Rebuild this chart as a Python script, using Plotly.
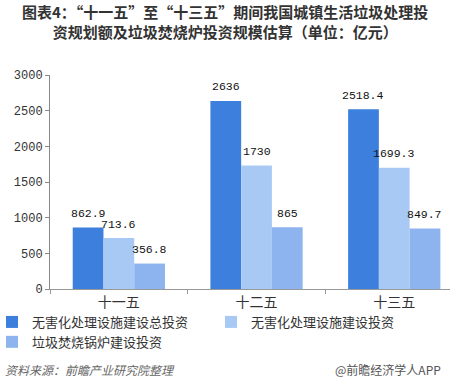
import plotly.graph_objects as go

categories = ["十一五", "十二五", "十三五"]
series_names = ["无害化处理设施建设总投资", "无害化处理设施建设投资", "垃圾焚烧锅炉建设投资"]
total_invest = [862.9, 2636, 2518.4]
facility_invest = [713.6, 1730, 1699.3]
boiler_invest = [356.8, 865, 849.7]
label_text = [
    ["862.9", "2636", "2518.4"],
    ["713.6", "1730", "1699.3"],
    ["356.8", "865", "849.7"],
]
y_ticks = [0, 500, 1000, 1500, 2000, 2500, 3000]
title_lines = ["图表4：“十一五”至“十三五”期间我国城镇生活垃圾处理投",
               "资规划额及垃圾焚烧炉投资规模估算（单位：亿元）"]

colors = ["#3D7FDC", "#A9C9F5", "#8DB4EE"]
values = [total_invest, facility_invest, boiler_invest]

fig = go.Figure()
for name, vals, col in zip(series_names, values, colors):
    fig.add_trace(go.Bar(x=categories, y=vals, name=name, marker_color=col,
                         marker_line_width=0))

bar_w = 0.67 / 3
annotations = []
for i, (vals, labs) in enumerate(zip(values, label_text)):
    for j, (v, t) in enumerate(zip(vals, labs)):
        annotations.append(dict(x=j + (i - 1) * bar_w, y=v, xref="x", yref="y",
                                text=t, showarrow=False, yshift=14,
                                font=dict(family="Liberation Mono", size=11.5, color="#111")))

annotations.append(dict(text="<b>" + "<br>".join(title_lines) + "</b>", xref="paper", yref="paper",
                        x=0.4375, y=1 + (75 - 22) / 214, xanchor="center", yanchor="middle",
                        showarrow=False,
                        font=dict(family="Noto Sans CJK SC", size=15, color="#333")))

annotations.append(dict(text="<i>资料来源：前瞻产业研究院整理</i>", xref="paper", yref="paper",
                        x=-0.118, y=-0.374, xanchor="left", yanchor="middle", showarrow=False,
                        font=dict(family="Noto Sans CJK SC", size=12, color="#666")))
annotations.append(dict(text="@前瞻经济学人APP", xref="paper", yref="paper",
                        x=0.983, y=-0.374, xanchor="right", yanchor="middle", showarrow=False,
                        font=dict(family="Noto Sans CJK SC", size=12, color="#555")))

fig.update_layout(
    width=450, height=383,
    margin=dict(l=50, r=0, t=75, b=94, autoexpand=False),
    paper_bgcolor="white", plot_bgcolor="white",
    barmode="group", bargap=0.33, bargroupgap=0,
    xaxis=dict(range=[-0.5, 2.405], showline=True, linecolor="#999", linewidth=1,
               ticks="outside", tickson="boundaries", ticklen=4, tickcolor="#999",
               tickfont=dict(family="Noto Sans CJK SC", size=14, color="#333"),
               showgrid=False, automargin=False),
    yaxis=dict(range=[0, 3000], tickvals=y_ticks, showline=True, linecolor="#888",
               linewidth=1, ticks="outside", ticklen=4, tickcolor="#888",
               tickfont=dict(family="Liberation Mono", size=12, color="#333"),
               showgrid=False, zeroline=False, automargin=False),
    legend=dict(orientation="h", xref="paper", yref="paper", x=-0.145, y=-0.084,
                xanchor="left", yanchor="top", entrywidth=174, entrywidthmode="pixels",
                itemwidth=30, tracegroupgap=0, bgcolor="rgba(0,0,0,0)",
                font=dict(family="Noto Sans CJK SC", size=13, color="#333")),
    annotations=annotations,
    showlegend=True,
)

fig.write_html("out.html", config={"displayModeBar": False},
               post_script="document.body.style.margin='0';document.body.style.overflow='hidden';")
